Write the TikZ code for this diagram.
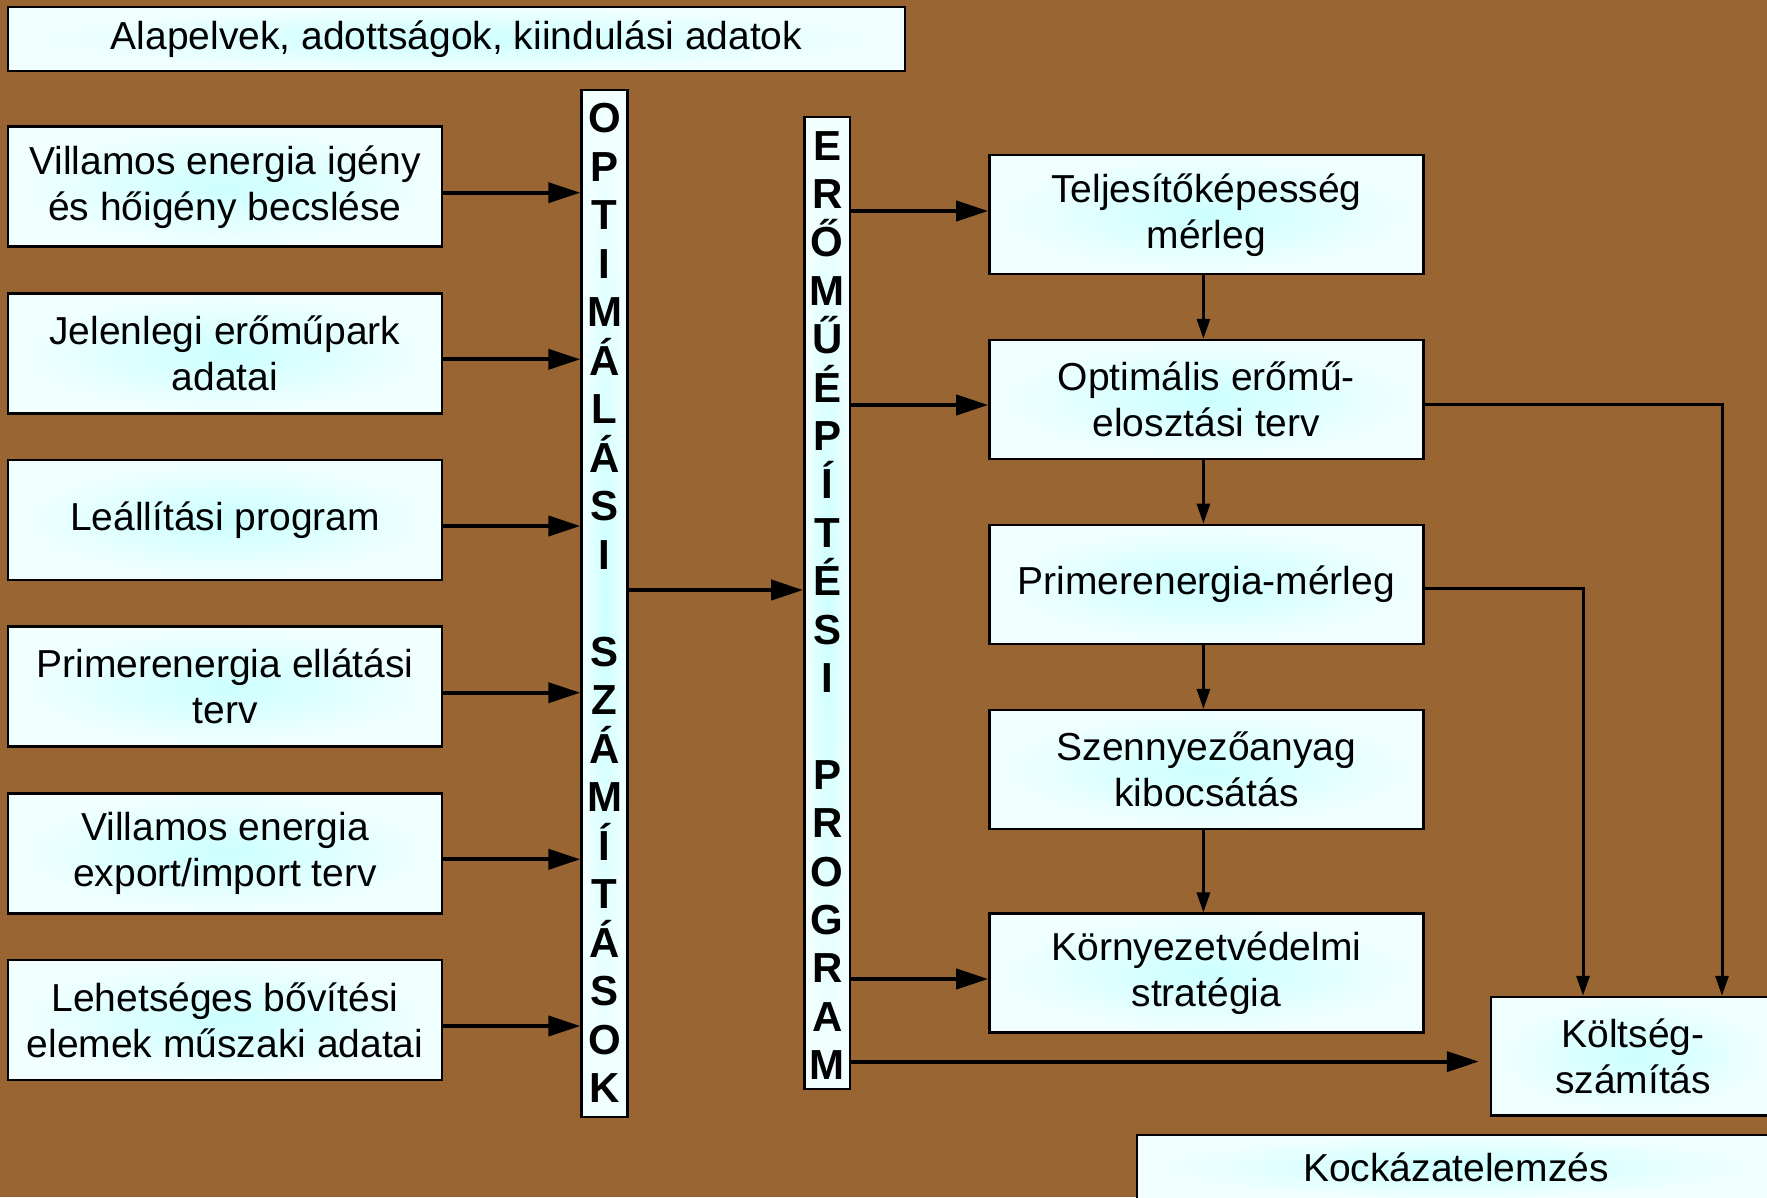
\documentclass[tikz,border=0pt]{standalone}
\usepackage{fontspec}
\setmainfont{Liberation Sans}
\usetikzlibrary{arrows.meta}
\definecolor{bg}{RGB}{153,102,51}
\definecolor{cin}{RGB}{204,255,255}
\definecolor{cout}{RGB}{242,255,255}
\begin{document}
\begin{tikzpicture}[x=1pt,y=-1pt,
  box/.style={draw=black, line width=2.5pt, inner color=cin, outer color=cout,
    align=center, inner sep=0pt, font=\fontsize{39}{46}\selectfont},
  lbox/.style={box, minimum width=434pt, minimum height=120pt},
  rbox/.style={box, minimum width=434pt, minimum height=119pt},
  letter/.style={inner sep=0pt, anchor=base, font=\fontsize{42}{42}\selectfont\bfseries},
  tarrow/.style={line width=4pt, -{Triangle[length=32pt,width=20pt]}},
  narrow/.style={line width=3pt, -{Triangle[length=20pt,width=13pt]}}]
\fill[bg] (0,0) rectangle (1767,1197);
\useasboundingbox (0,0) rectangle (1767,1197);
\clip (0,0) rectangle (1767,1197);

\node[box, minimum width=897pt, minimum height=64pt] (top) at (456.5,39) {Alapelvek, adottságok, kiindulási adatok};

\node[lbox] (l1) at (225,186.7) {Villamos energia igény\\és hőigény becslése};
\node[lbox] (l2) at (225,353.3) {Jelenlegi erőműpark\\adatai};
\node[lbox] (l3) at (225,520) {Leállítási program};
\node[lbox] (l4) at (225,686.7) {Primerenergia ellátási\\terv};
\node[lbox] (l5) at (225,853.3) {Villamos energia\\export/import terv};
\node[lbox] (l6) at (225,1020) {Lehetséges bővítési\\elemek műszaki adatai};

\node[box, minimum width=46pt, minimum height=1026.7pt] (opt) at (604.6,603.4) {};
\node[box, minimum width=45.7pt, minimum height=972pt] (ero) at (827.2,603) {};

\foreach \l [count=\i] in {O,P,T,I,M,Á,L,Á,S,I,{},S,Z,Á,M,Í,T,Á,S,O,K}
  \node[letter] (opt-\i) at (604.6,{132.5+48.5*(\i-1)}) {\l};
\foreach \l [count=\i] in {E,R,Ő,M,Ű,É,P,Í,T,É,S,I,{},P,R,O,G,R,A,M}
  \node[letter] (ero-\i) at (827.2,{160+48.4*(\i-1)}) {\l};

\node[rbox] (r1) at (1206.4,214.7) {Teljesítőképesség\\mérleg};
\node[rbox] (r2) at (1206.4,399.5) {Optimális erőmű-\\elosztási terv};
\node[rbox] (r3) at (1206.4,584.4) {Primerenergia-mérleg};
\node[rbox] (r4) at (1206.4,769.7) {Szennyezőanyag\\kibocsátás};
\node[rbox] (r5) at (1206.4,973.2) {Környezetvédelmi\\stratégia};
\node[box, minimum width=284pt, minimum height=118.6pt] (kolt) at (1633,1056.3) {Költség-\\számítás};
\node[box, minimum width=638pt, minimum height=64pt] (kock) at (1456,1167) {Kockázatelemzés};

\foreach \n in {l1,l2,l3,l4,l5,l6}
  \draw[tarrow] ([yshift=-6pt]\n.east) -- ([yshift=-6pt]\n.east -| opt.west);
\draw[tarrow] ([yshift=13.4pt]opt.east) -- ([yshift=13.4pt]opt.east -| ero.west);
\draw[tarrow] ([yshift=3.7pt]r1.west -| ero.east) -- ([yshift=3.7pt]r1.west);
\draw[tarrow] ([yshift=-5.5pt]r2.west -| ero.east) -- ([yshift=-5.5pt]r2.west);
\draw[tarrow] ([yshift=-5.8pt]r5.west -| ero.east) -- ([yshift=-5.8pt]r5.west);
\draw[tarrow, shorten >=11pt] ([yshift=-5.3pt]kolt.west -| ero.east) -- ([yshift=-5.3pt]kolt.west);

\draw[narrow] ([xshift=-3pt]r1.south) -- ([xshift=-3pt]r2.north);
\draw[narrow] ([xshift=-3pt]r2.south) -- ([xshift=-3pt]r3.north);
\draw[narrow] ([xshift=-3pt]r3.south) -- ([xshift=-3pt]r4.north);
\draw[narrow] ([xshift=-3pt]r4.south) -- ([xshift=-3pt]r5.north);
\draw[narrow] ([yshift=-5pt]r2.east) -| ([xshift=89pt]kolt.north);
\draw[narrow] ([yshift=-3.6pt]r3.east) -| ([xshift=-50pt]kolt.north);
\end{tikzpicture}
\end{document}
